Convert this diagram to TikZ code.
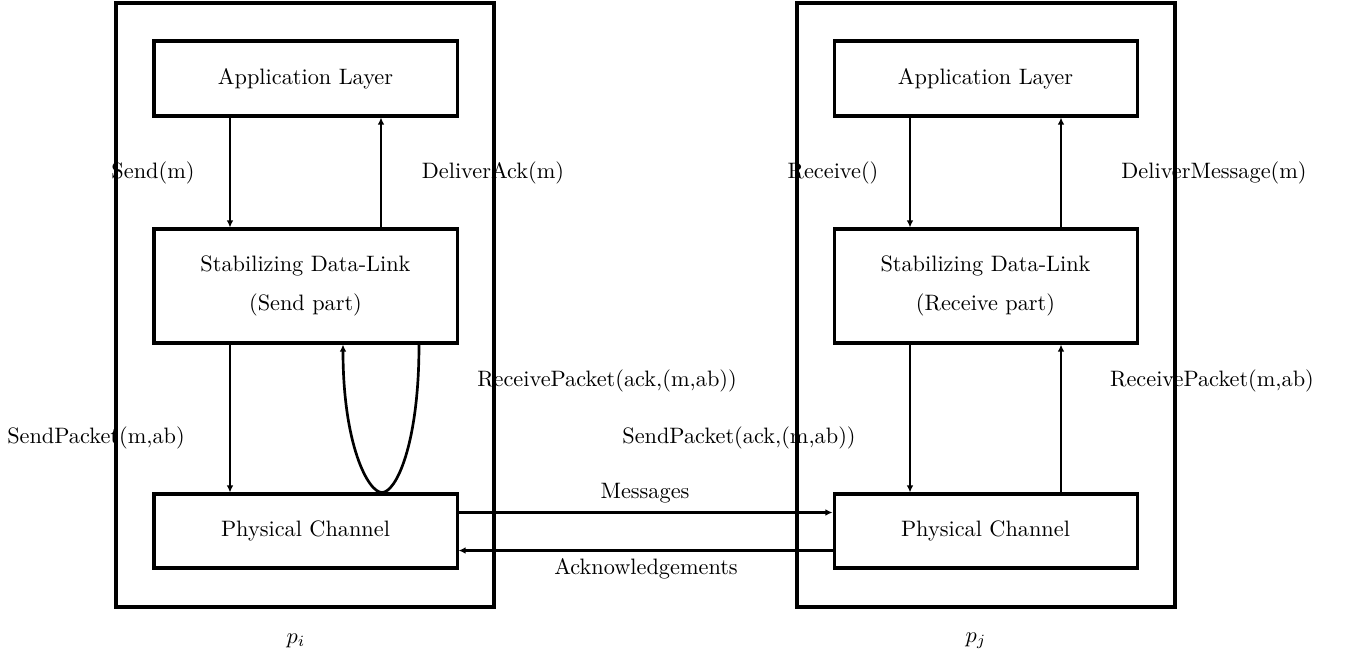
\documentclass[tikz,border=0pt]{standalone}
\usetikzlibrary{arrows.meta}
\def\u{0.4485pt}
\begin{document}
\begin{tikzpicture}[x=0.4485pt,y=-0.4485pt,
  outer/.style={draw,line width=1.8pt,minimum width=378*\u,minimum height=604*\u,inner sep=0pt},
  layer/.style={draw,line width=1.35pt,minimum width=303*\u,inner sep=0pt,align=center,font=\normalsize},
  arr/.style={line width=1.2pt,-{Latex[length=3.2pt,width=3pt]}},
  lbl/.style={inner sep=0pt,font=\normalsize}]
\useasboundingbox (0,0) rectangle (1345,661);
% outer boxes
\node[outer] (pi) at (305,305) {};
\node[outer] (pj) at (985.5,305) {};
% left stack
\node[layer,minimum height=75*\u] (appL) at (305.5,78.5) {Application Layer};
\node[layer,minimum height=114*\u] (sdlL) at (305.5,286) {Stabilizing Data-Link\\[1.2ex](Send part)};
\node[layer,minimum height=74*\u] (physL) at (305.5,531) {Physical Channel};
% right stack
\node[layer,minimum height=75*\u] (appR) at (985.5,78.5) {Application Layer};
\node[layer,minimum height=114*\u] (sdlR) at (985.5,286) {Stabilizing Data-Link\\[1.2ex](Receive part)};
\node[layer,minimum height=74*\u] (physR) at (985.5,531) {Physical Channel};
% left arrows
\draw[arr] ([xshift=-75.5*\u]appL.south) -- ([xshift=-75.5*\u]sdlL.north);
\draw[arr] ([xshift=75.5*\u]sdlL.north) -- ([xshift=75.5*\u]appL.south);
\draw[arr] ([xshift=-75.5*\u]sdlL.south) -- ([xshift=-75.5*\u]physL.north);
\draw[arr] ([xshift=113.5*\u]sdlL.south) .. controls +(0,100) and +(14,0) .. ([xshift=76.5*\u]physL.north)
  .. controls +(-14,0) and +(0,100) .. ([xshift=37.5*\u]sdlL.south);
% right arrows
\draw[arr] ([xshift=-75.5*\u]appR.south) -- ([xshift=-75.5*\u]sdlR.north);
\draw[arr] ([xshift=75.5*\u]sdlR.north) -- ([xshift=75.5*\u]appR.south);
\draw[arr] ([xshift=-75.5*\u]sdlR.south) -- ([xshift=-75.5*\u]physR.north);
\draw[arr] ([xshift=75.5*\u]physR.north) -- ([xshift=75.5*\u]sdlR.south);
% channel arrows
\draw[arr] ([yshift=-20*\u]physL.north east) -- ([yshift=-20*\u]physR.north west);
\draw[arr] ([yshift=19*\u]physR.south west) -- ([yshift=19*\u]physL.south east);
% labels
\node[lbl] (l1) at (153,173) {Send(m)};
\node[lbl] (l2) at (493,173) {DeliverAck(m)};
\node[lbl] (l3) at (833,173) {Receive()};
\node[lbl] (l4) at (1214,173) {DeliverMessage(m)};
\node[lbl] (l5) at (607,381) {ReceivePacket(ack,(m,ab))};
\node[lbl] (l6) at (96,438) {SendPacket(m,ab)};
\node[lbl] (l7) at (739,438) {SendPacket(ack,(m,ab))};
\node[lbl] (l8) at (1212,381) {ReceivePacket(m,ab)};
\node[lbl] (l9) at (645,493) {Messages};
\node[lbl] (l10) at (646,569) {Acknowledgements};
\node[lbl] (l11) at (296,641) {$p_i$};
\node[lbl] (l12) at (976,641) {$p_j$};
\end{tikzpicture}
\end{document}
